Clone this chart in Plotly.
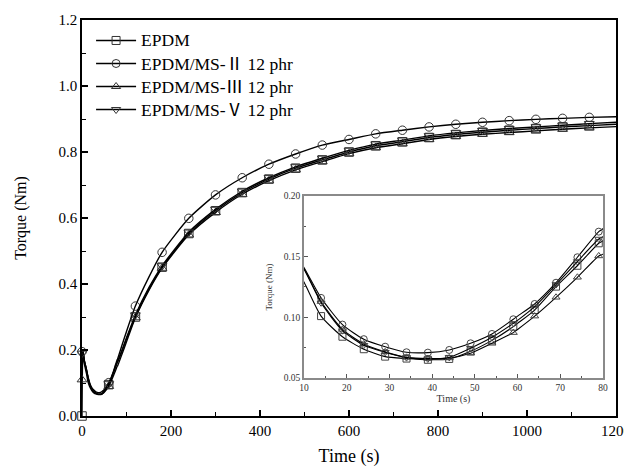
import plotly.graph_objects as go

# ---------------- data ----------------
time_s = [0, 2, 5, 10, 14, 19, 24, 29, 34, 39, 44, 49, 54, 59, 60, 64, 69, 74, 79, 80,
          90, 100, 120, 150, 180, 240, 300, 360, 420, 480, 540, 600, 660, 720, 780,
          840, 900, 960, 1020, 1080, 1140, 1200]

epdm = [0.0, 0.195, 0.160, 0.129, 0.101, 0.084, 0.0737, 0.0676, 0.0660, 0.0650, 0.0657,
        0.0720, 0.0810, 0.0923, 0.0950, 0.106, 0.1253, 0.1425, 0.161, 0.163,
        0.197, 0.234, 0.300, 0.383, 0.451, 0.553, 0.622, 0.677, 0.718, 0.751, 0.776,
        0.800, 0.819, 0.831, 0.844, 0.853, 0.860, 0.866, 0.871, 0.876, 0.880, 0.884]

ms2 = [0.195, 0.198, 0.170, 0.141, 0.116, 0.094, 0.082, 0.0758, 0.0712, 0.0709, 0.0731,
       0.0786, 0.0863, 0.0984, 0.101, 0.111, 0.1285, 0.1495, 0.1706, 0.173,
       0.215, 0.256, 0.333, 0.420, 0.496, 0.599, 0.670, 0.722, 0.763, 0.794, 0.821,
       0.838, 0.855, 0.866, 0.876, 0.884, 0.890, 0.895, 0.899, 0.902, 0.905, 0.907]

ms3 = [0.110, 0.196, 0.168, 0.140, 0.113, 0.090, 0.078, 0.0715, 0.0670, 0.0660, 0.0665,
       0.0704, 0.0786, 0.0874, 0.090, 0.101, 0.1165, 0.133, 0.1506, 0.152,
       0.188, 0.225, 0.298, 0.380, 0.448, 0.549, 0.617, 0.672, 0.713, 0.746, 0.771,
       0.795, 0.813, 0.825, 0.838, 0.847, 0.854, 0.859, 0.864, 0.869, 0.873, 0.877]

ms5 = [0.190, 0.197, 0.168, 0.140, 0.112, 0.089, 0.077, 0.0712, 0.0668, 0.0657, 0.0670,
       0.0745, 0.0835, 0.095, 0.0975, 0.1088, 0.127, 0.146, 0.1645, 0.1665,
       0.200, 0.237, 0.306, 0.388, 0.455, 0.557, 0.626, 0.681, 0.722, 0.755, 0.781,
       0.805, 0.824, 0.836, 0.849, 0.858, 0.865, 0.871, 0.876, 0.881, 0.886, 0.890]

CJK = "font-family:'Noto Sans CJK JP'"
BIG = "font-size:17.5px"
series_names = [f"<span style=\"{BIG}\">EPDM</span>",
                f"<span style=\"{BIG}\">EPDM/MS-<span style=\"{CJK}\">Ⅱ</span> 12 phr</span>",
                f"<span style=\"{BIG}\">EPDM/MS-<span style=\"{CJK}\">Ⅲ</span> 12 phr</span>",
                f"<span style=\"{BIG}\">EPDM/MS-<span style=\"{CJK}\">Ⅴ</span> 12 phr</span>"]
series_values = [epdm, ms2, ms3, ms5]
series_symbols = ["square-open", "circle-open", "triangle-up-open", "triangle-down-open"]

main_marker_times = [0, 60, 120, 180, 240, 300, 360, 420, 480, 540, 600, 660, 720,
                     780, 840, 900, 960, 1020, 1080, 1140]
inset_marker_times = [14, 19, 24, 29, 34, 39, 44, 49, 54, 59, 64, 69, 74, 79]

main_x_ticks = [0, 200, 400, 600, 800, 1000, 1200]
main_y_ticks = [0.0, 0.2, 0.4, 0.6, 0.8, 1.0, 1.2]
inset_x_ticks = [10, 20, 30, 40, 50, 60, 70, 80]
inset_y_ticks = [0.05, 0.10, 0.15, 0.20]

# ---------------- figure ----------------
FONT = "Liberation Serif, Times New Roman, serif"
fig = go.Figure()

for name, vals, sym in zip(series_names, series_values, series_symbols):
    # main curve
    fig.add_trace(go.Scatter(x=time_s, y=vals, mode="lines",
                             line=dict(color="black", width=1.4, shape="spline", smoothing=0.6),
                             showlegend=False, hoverinfo="skip", xaxis="x", yaxis="y"))
    mx = [t for t in time_s if t in main_marker_times]
    my = [v for t, v in zip(time_s, vals) if t in main_marker_times]
    fig.add_trace(go.Scatter(x=mx, y=my, mode="markers",
                             marker=dict(symbol=sym, size=8.5, color="#333",
                                         line=dict(width=1, color="#333")),
                             showlegend=False, cliponaxis=False, xaxis="x", yaxis="y"))
    # inset curve
    fig.add_trace(go.Scatter(x=time_s, y=vals, mode="lines",
                             line=dict(color="black", width=1.1, shape="spline", smoothing=0.6),
                             showlegend=False, hoverinfo="skip", xaxis="x2", yaxis="y2"))
    ix = [t for t in time_s if t in inset_marker_times]
    iy = [v for t, v in zip(time_s, vals) if t in inset_marker_times]
    fig.add_trace(go.Scatter(x=ix, y=iy, mode="markers",
                             marker=dict(symbol=sym, size=7, color="#444",
                                         line=dict(width=1, color="#444")),
                             showlegend=False, xaxis="x2", yaxis="y2"))
    # legend entry
    fig.add_trace(go.Scatter(x=[None], y=[None], mode="lines+markers", name=name,
                             line=dict(color="black", width=1.5),
                             marker=dict(symbol=sym, size=8, color="#333",
                                         line=dict(width=1, color="#333")),
                             xaxis="x", yaxis="y"))

axis_common = dict(showgrid=False, zeroline=False, showline=True, ticks="inside",
                   mirror=True, automargin=False)

# the page body has an 8px margin, so the figure is offset by 8px; sizes compensate
fig.update_layout(
    width=624, height=461,
    margin=dict(l=74, r=16, t=12, b=53, autoexpand=False),
    paper_bgcolor="white", plot_bgcolor="white",
    font=dict(family=FONT, color="black"),
    showlegend=True,
    legend=dict(x=0.017, y=0.99, xanchor="left", yanchor="top",
                bgcolor="rgba(0,0,0,0)", font=dict(size=15.4, family=FONT),
                tracegroupgap=0, itemwidth=40),
    xaxis=dict(**axis_common, range=[0, 1200], tickvals=main_x_ticks,
               ticktext=[str(v) for v in main_x_ticks], ticklabeloverflow="allow",
               linecolor="black", linewidth=1.5, tickcolor="black", tickwidth=1.5, ticklen=6,
               minor=dict(dtick=100, ticks="inside", ticklen=4, tickcolor="black", tickwidth=1.2),
               tickfont=dict(size=15, family=FONT),
               title=dict(text="Time (s)", font=dict(size=18, family=FONT), standoff=12),
               domain=[0, 1], anchor="y"),
    yaxis=dict(**axis_common, range=[0, 1.2], tickvals=main_y_ticks,
               ticktext=[f"{v:.1f}" for v in main_y_ticks],
               linecolor="black", linewidth=1.5, tickcolor="black", tickwidth=1.5, ticklen=6,
               minor=dict(dtick=0.1, ticks="inside", ticklen=4, tickcolor="black", tickwidth=1.2),
               tickfont=dict(size=15, family=FONT),
               title=dict(text="Torque (Nm)", font=dict(size=16, family=FONT), standoff=28),
               domain=[0, 1], anchor="x"),
    xaxis2=dict(**axis_common, range=[10, 80], tickvals=inset_x_ticks,
                ticktext=[str(v) for v in inset_x_ticks],
                linecolor="#8a8a8a", linewidth=1.5, tickcolor="#555", tickwidth=1, ticklen=4,
                minor=dict(dtick=5, ticks="inside", ticklen=2, tickcolor="#555"),
                tickfont=dict(size=9.5, family=FONT, color="#333"),
                title=dict(text="Time (s)", font=dict(size=10, family=FONT, color="#333"), standoff=2),
                domain=[0.4157, 0.9757], anchor="y2"),
    yaxis2=dict(**axis_common, range=[0.05, 0.20], tickvals=inset_y_ticks,
                ticktext=[f"{v:.2f}" for v in inset_y_ticks],
                linecolor="#8a8a8a", linewidth=1.5, tickcolor="#555", tickwidth=1, ticklen=4,
                minor=dict(dtick=0.025, ticks="inside", ticklen=2, tickcolor="#555"),
                tickfont=dict(size=9.5, family=FONT, color="#333"),
                title=dict(text="Torque (Nm)", font=dict(size=9, family=FONT, color="#333"), standoff=10),
                domain=[0.096, 0.5556], anchor="x2"),
)

fig.write_html("out.html")
